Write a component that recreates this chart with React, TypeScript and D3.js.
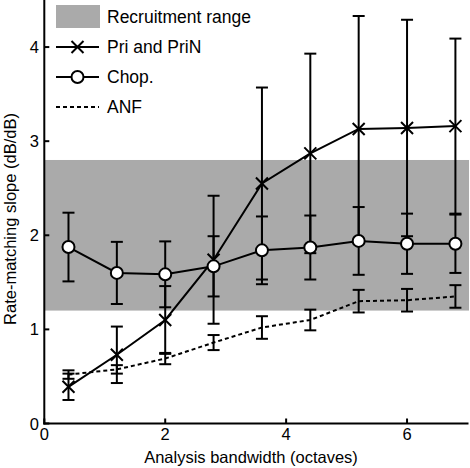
import React from "react";
import * as d3 from "d3";

const bandwidths = [0.4, 1.2, 2.0, 2.8, 3.6, 4.4, 5.2, 6.0, 6.8];
const priMean = [0.39, 0.73, 1.1, 1.74, 2.55, 2.87, 3.13, 3.14, 3.16];
const priErr = [0.14, 0.3, 0.36, 0.68, 1.02, 1.06, 1.2, 1.15, 0.93];
const chopMean = [1.875, 1.6, 1.585, 1.67, 1.84, 1.87, 1.94, 1.91, 1.91];
const chopErr = [0.365, 0.33, 0.35, 0.32, 0.36, 0.34, 0.36, 0.32, 0.31];
const anfMean = [0.52, 0.575, 0.69, 0.86, 1.02, 1.1, 1.3, 1.31, 1.35];
const anfErr = [0.045, 0.045, 0.06, 0.08, 0.12, 0.11, 0.12, 0.12, 0.12];
const recruitmentRange = [1.2, 2.8];
const xTicks = [0, 2, 4, 6];
const yTicks = [0, 1, 2, 3, 4];
const legendLabels = ["Recruitment range", "Pri and PriN", "Chop.", "ANF"];

const W = 470;
const H = 468;
const FONT = "'Liberation Sans', Arial, Helvetica, sans-serif";

export default function App() {
  const x = d3.scaleLinear().domain([0, 7]).range([44.3, 467.5]);
  const y = d3.scaleLinear().domain([0, 4.5]).range([423.5, 0]);

  const line = (vals: number[]) =>
    d3
      .line<number>()
      .x((_, i) => x(bandwidths[i]))
      .y((d) => y(d))(vals) || "";

  const errBars = (mean: number[], err: number[], key: string) =>
    bandwidths.map((b, i) => {
      const cx = x(b);
      const y1 = y(mean[i] + err[i]);
      const y0 = y(mean[i] - err[i]);
      return (
        <g key={key + i} stroke="#000" strokeWidth={2}>
          <line x1={cx} x2={cx} y1={y1} y2={y0} />
          <line x1={cx - 6} x2={cx + 6} y1={y1} y2={y1} />
          <line x1={cx - 6} x2={cx + 6} y1={y0} y2={y0} />
        </g>
      );
    });

  const xMarker = (cx: number, cy: number, key: string) => (
    <path
      key={key}
      d={`M${cx - 6},${cy - 6}L${cx + 6},${cy + 6}M${cx - 6},${cy + 6}L${cx + 6},${cy - 6}`}
      stroke="#000"
      strokeWidth={2}
      fill="none"
    />
  );

  const legendX0 = 56;
  const legendX1 = 99;
  const legendRows = [17, 47, 77, 107];

  return (
    <svg
      width={W}
      height={H}
      style={{ position: "absolute", left: 0, top: 0, background: "#fff" }}
      fontFamily={FONT}
    >
      {/* recruitment band */}
      <rect
        x={x(0)}
        y={y(recruitmentRange[1])}
        width={x(7) - x(0) + 1.5}
        height={y(recruitmentRange[0]) - y(recruitmentRange[1])}
        fill="#aaaaaa"
      />

      {/* ANF */}
      <path d={line(anfMean)} fill="none" stroke="#000" strokeWidth={2} strokeDasharray="4,3" />
      {errBars(anfMean, anfErr, "anf")}

      {/* Pri and PriN */}
      {errBars(priMean, priErr, "pri")}
      <path d={line(priMean)} fill="none" stroke="#000" strokeWidth={2} />
      {bandwidths.map((b, i) => xMarker(x(b), y(priMean[i]), "px" + i))}

      {/* Chop */}
      {errBars(chopMean, chopErr, "chop")}
      <path d={line(chopMean)} fill="none" stroke="#000" strokeWidth={2} />
      {bandwidths.map((b, i) => (
        <circle key={"c" + i} cx={x(b)} cy={y(chopMean[i])} r={6} fill="#fff" stroke="#000" strokeWidth={2} />
      ))}

      {/* axes */}
      <line x1={x(0)} x2={x(0)} y1={0} y2={y(0) + 1} stroke="#000" strokeWidth={2} />
      <line x1={x(0) - 1} x2={x(7) + 1} y1={y(0)} y2={y(0)} stroke="#000" strokeWidth={2} />
      {xTicks.map((t) => (
        <g key={"xt" + t}>
          <line x1={x(t)} x2={x(t)} y1={y(0)} y2={y(0) - 5} stroke="#000" strokeWidth={2} />
          <text x={x(t)} y={440} textAnchor="middle" fontSize={16.5} fill="#000">
            {t}
          </text>
        </g>
      ))}
      {yTicks.map((t) => (
        <g key={"yt" + t}>
          <line x1={x(0)} x2={x(0) + 5} y1={y(t)} y2={y(t)} stroke="#000" strokeWidth={2} />
          <text x={39} y={y(t) + 6} textAnchor="end" fontSize={16.5} fill="#000">
            {t}
          </text>
        </g>
      ))}
      <text x={251} y={463} textAnchor="middle" fontSize={16.5} fill="#000">
        Analysis bandwidth (octaves)
      </text>
      <text
        transform={`translate(16,219) rotate(-90)`}
        textAnchor="middle"
        fontSize={16.5}
        fill="#000"
      >
        Rate-matching slope (dB/dB)
      </text>

      {/* legend */}
      <rect x={legendX0} y={5} width={legendX1 - legendX0 + 1} height={23} fill="#aaaaaa" />
      <line x1={legendX0} x2={legendX1} y1={legendRows[1]} y2={legendRows[1]} stroke="#000" strokeWidth={2} />
      {xMarker((legendX0 + legendX1) / 2, legendRows[1], "lgx")}
      <line x1={legendX0} x2={legendX1} y1={legendRows[2]} y2={legendRows[2]} stroke="#000" strokeWidth={2} />
      <circle cx={(legendX0 + legendX1) / 2} cy={legendRows[2]} r={6} fill="#fff" stroke="#000" strokeWidth={2} />
      <line
        x1={legendX0}
        x2={legendX1}
        y1={legendRows[3]}
        y2={legendRows[3]}
        stroke="#000"
        strokeWidth={2}
        strokeDasharray="4,3"
      />
      {legendLabels.map((l, i) => (
        <text key={"lg" + i} x={107} y={legendRows[i] + 6} fontSize={17.5} fill="#000">
          {l}
        </text>
      ))}
    </svg>
  );
}
